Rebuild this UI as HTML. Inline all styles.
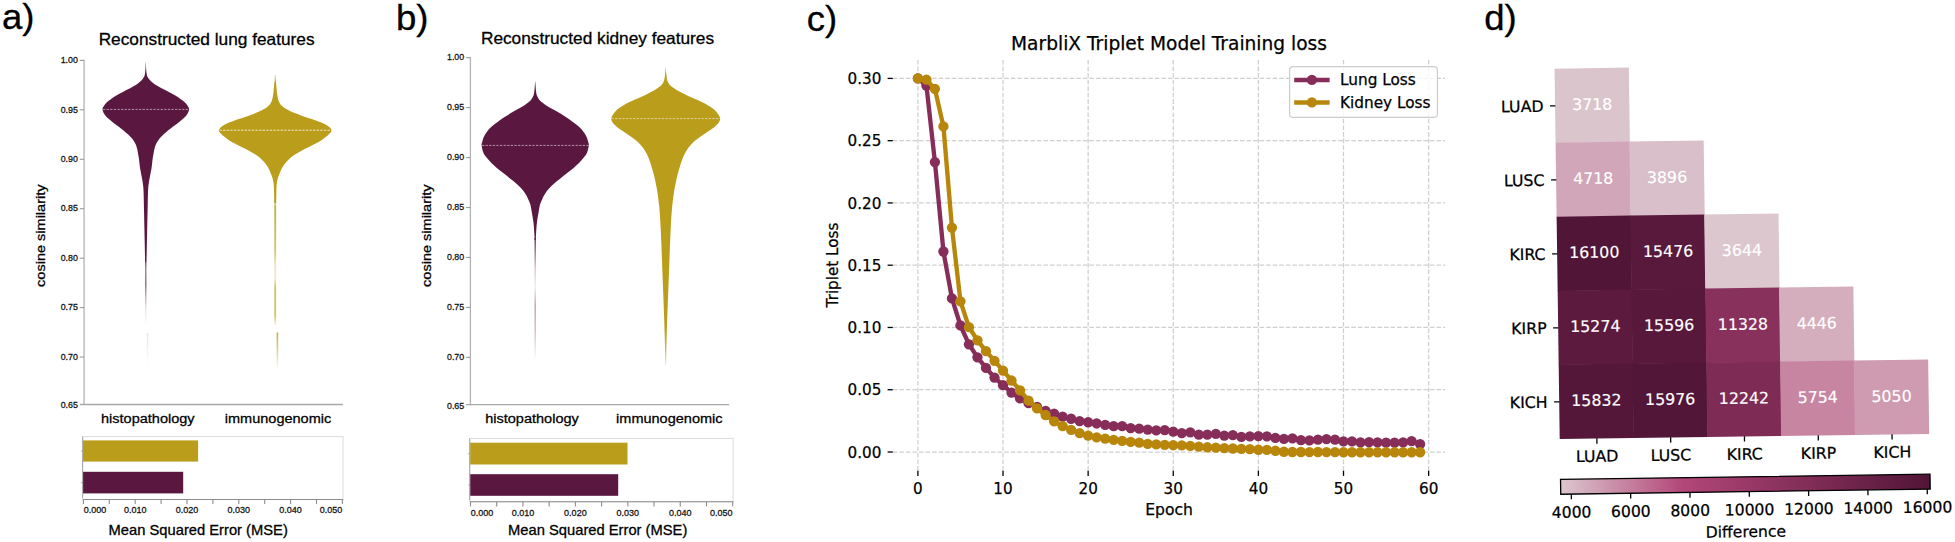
<!DOCTYPE html>
<html lang="en"><head><meta charset="utf-8"><title>MarbliX figure</title>
<style>
html,body{margin:0;padding:0;background:#fff;}
body{width:1955px;height:542px;overflow:hidden;}
svg{display:block;}
text{white-space:pre;}
</style></head><body>
<svg width="1955" height="542" viewBox="0 0 1955 542">
<rect width="1955" height="542" fill="#fff"/>
<defs>
<linearGradient id="t1" x1="0" y1="0" x2="0" y2="1"><stop offset="0" stop-color="#5a1740" stop-opacity="0.85"/><stop offset="0.12" stop-color="#5a1740" stop-opacity="0.6"/><stop offset="0.35" stop-color="#5a1740" stop-opacity="0.7"/><stop offset="0.7" stop-color="#5a1740" stop-opacity="0.15"/><stop offset="1" stop-color="#5a1740" stop-opacity="0"/></linearGradient>
<linearGradient id="t1b" x1="0" y1="0" x2="0" y2="1"><stop offset="0" stop-color="#5a1740" stop-opacity="0.12"/><stop offset="1" stop-color="#5a1740" stop-opacity="0"/></linearGradient>
<linearGradient id="t2" x1="0" y1="0" x2="0" y2="1"><stop offset="0" stop-color="#ba9e1b" stop-opacity="0.5"/><stop offset="0.04" stop-color="#ba9e1b" stop-opacity="0.8"/><stop offset="0.4" stop-color="#ba9e1b" stop-opacity="0.6"/><stop offset="0.5" stop-color="#ba9e1b" stop-opacity="0.28"/><stop offset="0.62" stop-color="#ba9e1b" stop-opacity="0.2"/><stop offset="0.7" stop-color="#ba9e1b" stop-opacity="0.65"/><stop offset="0.92" stop-color="#ba9e1b" stop-opacity="0.6"/><stop offset="1" stop-color="#ba9e1b" stop-opacity="0.15"/></linearGradient>
<linearGradient id="t2b" x1="0" y1="0" x2="0" y2="1"><stop offset="0" stop-color="#ba9e1b" stop-opacity="0.85"/><stop offset="0.5" stop-color="#ba9e1b" stop-opacity="0.45"/><stop offset="1" stop-color="#ba9e1b" stop-opacity="0"/></linearGradient>
<linearGradient id="t3" x1="0" y1="0" x2="0" y2="1"><stop offset="0" stop-color="#5a1740" stop-opacity="0.9"/><stop offset="0.25" stop-color="#5a1740" stop-opacity="0.25"/><stop offset="0.4" stop-color="#5a1740" stop-opacity="0.08"/><stop offset="0.55" stop-color="#5a1740" stop-opacity="0.4"/><stop offset="0.75" stop-color="#5a1740" stop-opacity="0.3"/><stop offset="1" stop-color="#5a1740" stop-opacity="0"/></linearGradient>
<linearGradient id="t4" x1="0" y1="0" x2="0" y2="1"><stop offset="0" stop-color="#ba9e1b" stop-opacity="1"/><stop offset="1" stop-color="#ba9e1b" stop-opacity="0"/></linearGradient>
<linearGradient id="cb" x1="0" y1="0" x2="1" y2="0"><stop offset="0" stop-color="#dcc7ce" stop-opacity="1"/><stop offset="0.333" stop-color="#b24678" stop-opacity="1"/><stop offset="1" stop-color="#511538" stop-opacity="1"/></linearGradient>
<linearGradient id="v4g" gradientUnits="userSpaceOnUse" x1="0" y1="60" x2="0" y2="372"><stop offset="0" stop-color="#ba9e1b"/><stop offset="0.86" stop-color="#ba9e1b"/><stop offset="0.93" stop-color="#ba9e1b" stop-opacity="0.75"/><stop offset="1" stop-color="#ba9e1b" stop-opacity="0"/></linearGradient>
</defs>
<g stroke="#b2b2b2" stroke-width="1.3" fill="none">
<line x1="84.05" y1="59.80" x2="84.05" y2="405.10"/>
<line x1="79.75" y1="404.50" x2="342.85" y2="404.50" stroke="#a8a8a8"/>
<line x1="79.75" y1="60.40" x2="84.05" y2="60.40" stroke-width="1.1" stroke="#999"/>
<line x1="79.75" y1="109.84" x2="84.05" y2="109.84" stroke-width="1.1" stroke="#999"/>
<line x1="79.75" y1="159.28" x2="84.05" y2="159.28" stroke-width="1.1" stroke="#999"/>
<line x1="79.75" y1="208.72" x2="84.05" y2="208.72" stroke-width="1.1" stroke="#999"/>
<line x1="79.75" y1="258.16" x2="84.05" y2="258.16" stroke-width="1.1" stroke="#999"/>
<line x1="79.75" y1="307.60" x2="84.05" y2="307.60" stroke-width="1.1" stroke="#999"/>
<line x1="79.75" y1="357.04" x2="84.05" y2="357.04" stroke-width="1.1" stroke="#999"/>
</g>
<text transform="translate(77.85 63.15) scale(1.0600 1)" font-size="8.35" text-anchor="end" font-family='"Liberation Sans", Arial, Helvetica, sans-serif' fill="#111" stroke="#111" stroke-width="0.25" >1.00</text>
<text transform="translate(77.85 112.59) scale(1.0600 1)" font-size="8.35" text-anchor="end" font-family='"Liberation Sans", Arial, Helvetica, sans-serif' fill="#111" stroke="#111" stroke-width="0.25" >0.95</text>
<text transform="translate(77.85 162.03) scale(1.0600 1)" font-size="8.35" text-anchor="end" font-family='"Liberation Sans", Arial, Helvetica, sans-serif' fill="#111" stroke="#111" stroke-width="0.25" >0.90</text>
<text transform="translate(77.85 211.47) scale(1.0600 1)" font-size="8.35" text-anchor="end" font-family='"Liberation Sans", Arial, Helvetica, sans-serif' fill="#111" stroke="#111" stroke-width="0.25" >0.85</text>
<text transform="translate(77.85 260.91) scale(1.0600 1)" font-size="8.35" text-anchor="end" font-family='"Liberation Sans", Arial, Helvetica, sans-serif' fill="#111" stroke="#111" stroke-width="0.25" >0.80</text>
<text transform="translate(77.85 310.35) scale(1.0600 1)" font-size="8.35" text-anchor="end" font-family='"Liberation Sans", Arial, Helvetica, sans-serif' fill="#111" stroke="#111" stroke-width="0.25" >0.75</text>
<text transform="translate(77.85 359.79) scale(1.0600 1)" font-size="8.35" text-anchor="end" font-family='"Liberation Sans", Arial, Helvetica, sans-serif' fill="#111" stroke="#111" stroke-width="0.25" >0.70</text>
<text transform="translate(77.85 408.45) scale(1.0600 1)" font-size="8.35" text-anchor="end" font-family='"Liberation Sans", Arial, Helvetica, sans-serif' fill="#111" stroke="#111" stroke-width="0.25" >0.65</text>
<text transform="translate(2.00 29.00) scale(1.0500 1)" font-size="34.80" text-anchor="start" font-family='"Liberation Sans", Arial, Helvetica, sans-serif' fill="#000" stroke="#000" stroke-width="0.30" >a)</text>
<text transform="translate(206.60 44.80) scale(1.0600 1)" font-size="16.30" text-anchor="middle" font-family='"Liberation Sans", Arial, Helvetica, sans-serif' fill="#000" stroke="#000" stroke-width="0.28" >Reconstructed lung features</text>
<text transform="translate(147.80 423.40) scale(1.0600 1)" font-size="13.70" text-anchor="middle" font-family='"Liberation Sans", Arial, Helvetica, sans-serif' fill="#000" stroke="#000" stroke-width="0.28" >histopathology</text>
<text transform="translate(278.00 423.40) scale(1.0600 1)" font-size="13.70" text-anchor="middle" font-family='"Liberation Sans", Arial, Helvetica, sans-serif' fill="#000" stroke="#000" stroke-width="0.28" >immunogenomic</text>
<text transform="translate(45.00 235.70) rotate(-90) scale(1.0600 1)" font-size="13.70" text-anchor="middle" font-family='"Liberation Sans", Arial, Helvetica, sans-serif' fill="#000" stroke="#000" stroke-width="0.28" >cosine similarity</text>
<path d="M145.90 62.50 C145.93 63.42 145.98 66.17 146.10 68.00 C146.22 69.83 146.35 71.98 146.60 73.50 C146.85 75.02 146.97 75.88 147.60 77.10 C148.23 78.32 149.17 79.57 150.40 80.80 C151.63 82.03 153.15 83.27 155.00 84.50 C156.85 85.73 159.20 86.97 161.50 88.20 C163.80 89.43 166.50 90.67 168.80 91.90 C171.10 93.13 173.30 94.37 175.30 95.60 C177.30 96.83 179.10 98.07 180.80 99.30 C182.50 100.53 184.27 101.77 185.50 103.00 C186.73 104.23 187.60 105.63 188.20 106.70 C188.80 107.77 189.25 108.18 189.10 109.40 C188.95 110.62 188.12 112.62 187.30 114.00 C186.48 115.38 185.45 116.47 184.20 117.70 C182.95 118.93 181.28 120.17 179.80 121.40 C178.32 122.63 176.88 123.87 175.30 125.10 C173.72 126.33 171.88 127.57 170.30 128.80 C168.72 130.03 167.23 131.27 165.80 132.50 C164.37 133.73 162.92 134.97 161.70 136.20 C160.48 137.43 159.40 138.67 158.50 139.90 C157.60 141.13 156.90 142.37 156.30 143.60 C155.70 144.83 155.28 146.07 154.90 147.30 C154.52 148.53 154.25 149.78 154.00 151.00 C153.75 152.22 153.63 153.23 153.40 154.60 C153.17 155.97 152.92 156.88 152.60 159.20 C152.28 161.52 151.98 165.42 151.50 168.50 C151.02 171.58 150.23 174.63 149.70 177.70 C149.17 180.77 148.60 183.83 148.30 186.90 C148.00 189.97 148.00 193.02 147.90 196.10 C147.80 199.18 147.77 202.32 147.70 205.40 C147.63 208.48 147.57 211.53 147.50 214.60 C147.43 217.67 147.37 220.73 147.30 223.80 C147.23 226.87 147.17 229.92 147.10 233.00 C147.03 236.08 146.97 239.13 146.90 242.30 C146.83 245.47 146.77 248.72 146.70 252.00 C146.63 255.28 146.53 260.33 146.50 262.00 L145.10 262.00 C145.07 260.33 144.97 255.28 144.90 252.00 C144.83 248.72 144.77 245.47 144.70 242.30 C144.63 239.13 144.57 236.08 144.50 233.00 C144.43 229.92 144.37 226.87 144.30 223.80 C144.23 220.73 144.17 217.67 144.10 214.60 C144.03 211.53 143.97 208.48 143.90 205.40 C143.83 202.32 143.80 199.18 143.70 196.10 C143.60 193.02 143.60 189.97 143.30 186.90 C143.00 183.83 142.43 180.77 141.90 177.70 C141.37 174.63 140.58 171.58 140.10 168.50 C139.62 165.42 139.32 161.52 139.00 159.20 C138.68 156.88 138.43 155.97 138.20 154.60 C137.97 153.23 137.85 152.22 137.60 151.00 C137.35 149.78 137.08 148.53 136.70 147.30 C136.32 146.07 135.90 144.83 135.30 143.60 C134.70 142.37 134.00 141.13 133.10 139.90 C132.20 138.67 131.12 137.43 129.90 136.20 C128.68 134.97 127.23 133.73 125.80 132.50 C124.37 131.27 122.88 130.03 121.30 128.80 C119.72 127.57 117.88 126.33 116.30 125.10 C114.72 123.87 113.28 122.63 111.80 121.40 C110.32 120.17 108.65 118.93 107.40 117.70 C106.15 116.47 105.12 115.38 104.30 114.00 C103.48 112.62 102.65 110.62 102.50 109.40 C102.35 108.18 102.80 107.77 103.40 106.70 C104.00 105.63 104.87 104.23 106.10 103.00 C107.33 101.77 109.10 100.53 110.80 99.30 C112.50 98.07 114.30 96.83 116.30 95.60 C118.30 94.37 120.50 93.13 122.80 91.90 C125.10 90.67 127.80 89.43 130.10 88.20 C132.40 86.97 134.75 85.73 136.60 84.50 C138.45 83.27 139.97 82.03 141.20 80.80 C142.43 79.57 143.37 78.32 144.00 77.10 C144.63 75.88 144.75 75.02 145.00 73.50 C145.25 71.98 145.38 69.83 145.50 68.00 C145.62 66.17 145.67 63.42 145.70 62.50 Z" fill="#5a1740"/>
<rect x="145.15" y="261.8" width="1.3" height="64" fill="url(#t1)"/>
<rect x="146.9" y="333" width="1.4" height="32" fill="url(#t1b)"/>
<line x1="103" y1="109.4" x2="189" y2="109.4" stroke="#fff" stroke-opacity="0.6" stroke-width="0.9" stroke-dasharray="2.3 1.3"/>
<path d="M275.35 75.00 C275.41 75.83 275.56 78.47 275.70 80.00 C275.84 81.53 275.97 81.90 276.20 84.20 C276.43 86.50 276.68 91.00 277.10 93.80 C277.52 96.60 277.92 99.00 278.70 101.00 C279.48 103.00 280.08 104.20 281.80 105.80 C283.52 107.40 285.80 109.00 289.00 110.60 C292.20 112.20 296.63 113.80 301.00 115.40 C305.37 117.00 310.97 118.60 315.20 120.20 C319.43 121.80 323.67 123.33 326.40 125.00 C329.13 126.67 331.23 128.60 331.60 130.20 C331.97 131.80 330.10 133.07 328.60 134.60 C327.10 136.13 325.00 137.80 322.60 139.40 C320.20 141.00 317.20 142.60 314.20 144.20 C311.20 145.80 307.60 147.40 304.60 149.00 C301.60 150.60 298.68 152.22 296.20 153.80 C293.72 155.38 291.53 156.92 289.70 158.50 C287.87 160.08 286.48 161.70 285.20 163.30 C283.92 164.90 282.90 166.50 282.00 168.10 C281.10 169.70 280.47 171.30 279.80 172.90 C279.13 174.50 278.48 176.10 278.00 177.70 C277.52 179.30 277.15 180.90 276.90 182.50 C276.65 184.10 276.60 185.22 276.50 187.30 C276.40 189.38 276.35 192.38 276.30 195.00 C276.25 197.62 276.22 201.67 276.20 203.00 L274.20 203.00 C274.18 201.67 274.15 197.62 274.10 195.00 C274.05 192.38 274.00 189.38 273.90 187.30 C273.80 185.22 273.75 184.10 273.50 182.50 C273.25 180.90 272.88 179.30 272.40 177.70 C271.92 176.10 271.27 174.50 270.60 172.90 C269.93 171.30 269.30 169.70 268.40 168.10 C267.50 166.50 266.48 164.90 265.20 163.30 C263.92 161.70 262.53 160.08 260.70 158.50 C258.87 156.92 256.68 155.38 254.20 153.80 C251.72 152.22 248.80 150.60 245.80 149.00 C242.80 147.40 239.20 145.80 236.20 144.20 C233.20 142.60 230.20 141.00 227.80 139.40 C225.40 137.80 223.30 136.13 221.80 134.60 C220.30 133.07 218.43 131.80 218.80 130.20 C219.17 128.60 221.27 126.67 224.00 125.00 C226.73 123.33 230.97 121.80 235.20 120.20 C239.43 118.60 245.03 117.00 249.40 115.40 C253.77 113.80 258.20 112.20 261.40 110.60 C264.60 109.00 266.88 107.40 268.60 105.80 C270.32 104.20 270.92 103.00 271.70 101.00 C272.48 99.00 272.88 96.60 273.30 93.80 C273.72 91.00 273.97 86.50 274.20 84.20 C274.43 81.90 274.56 81.53 274.70 80.00 C274.84 78.47 274.99 75.83 275.05 75.00 Z" fill="#ba9e1b"/>
<rect x="274.25" y="202.5" width="1.9" height="122.5" fill="url(#t2)"/>
<rect x="276.6" y="332.5" width="1.6" height="38" fill="url(#t2b)"/>
<line x1="219.5" y1="130.2" x2="331.5" y2="130.2" stroke="#fff" stroke-opacity="0.75" stroke-width="1.1" stroke-dasharray="2.3 1.3"/>
<rect x="82.60" y="436.60" width="260.40" height="62.90" fill="#fff" stroke="#dcdcdc" stroke-width="1"/>
<rect x="83.00" y="440.40" width="115.10" height="21.20" fill="#ba9e1b"/>
<rect x="83.00" y="471.80" width="100.20" height="21.60" fill="#5a1740"/>
<g stroke="#8c8c8c" stroke-width="1.1" fill="none">
<line x1="82.60" y1="436.60" x2="82.60" y2="498.00" stroke="#aaa"/>
<line x1="82.90" y1="499.50" x2="343.30" y2="499.50"/>
<line x1="83.40" y1="499.50" x2="83.40" y2="504.10"/>
<line x1="109.30" y1="499.50" x2="109.30" y2="504.10"/>
<line x1="135.20" y1="499.50" x2="135.20" y2="504.10"/>
<line x1="161.10" y1="499.50" x2="161.10" y2="504.10"/>
<line x1="187.00" y1="499.50" x2="187.00" y2="504.10"/>
<line x1="212.90" y1="499.50" x2="212.90" y2="504.10"/>
<line x1="238.80" y1="499.50" x2="238.80" y2="504.10"/>
<line x1="264.70" y1="499.50" x2="264.70" y2="504.10"/>
<line x1="290.60" y1="499.50" x2="290.60" y2="504.10"/>
<line x1="316.50" y1="499.50" x2="316.50" y2="504.10"/>
<line x1="342.40" y1="499.50" x2="342.40" y2="504.10"/>
<line x1="81.00" y1="451.00" x2="82.60" y2="451.00" stroke-opacity="0.6"/>
<line x1="81.00" y1="482.60" x2="82.60" y2="482.60" stroke-opacity="0.6"/>
</g>
<text transform="translate(83.70 513.30) scale(1.0600 1)" font-size="8.50" text-anchor="start" font-family='"Liberation Sans", Arial, Helvetica, sans-serif' fill="#111" stroke="#111" stroke-width="0.25" >0.000</text>
<text transform="translate(135.20 513.30) scale(1.0600 1)" font-size="8.50" text-anchor="middle" font-family='"Liberation Sans", Arial, Helvetica, sans-serif' fill="#111" stroke="#111" stroke-width="0.25" >0.010</text>
<text transform="translate(187.00 513.30) scale(1.0600 1)" font-size="8.50" text-anchor="middle" font-family='"Liberation Sans", Arial, Helvetica, sans-serif' fill="#111" stroke="#111" stroke-width="0.25" >0.020</text>
<text transform="translate(238.80 513.30) scale(1.0600 1)" font-size="8.50" text-anchor="middle" font-family='"Liberation Sans", Arial, Helvetica, sans-serif' fill="#111" stroke="#111" stroke-width="0.25" >0.030</text>
<text transform="translate(290.60 513.30) scale(1.0600 1)" font-size="8.50" text-anchor="middle" font-family='"Liberation Sans", Arial, Helvetica, sans-serif' fill="#111" stroke="#111" stroke-width="0.25" >0.040</text>
<text transform="translate(342.20 513.30) scale(1.0600 1)" font-size="8.50" text-anchor="end" font-family='"Liberation Sans", Arial, Helvetica, sans-serif' fill="#111" stroke="#111" stroke-width="0.25" >0.050</text>
<text transform="translate(198.20 535.30) scale(1.0600 1)" font-size="13.90" text-anchor="middle" font-family='"Liberation Sans", Arial, Helvetica, sans-serif' fill="#000" stroke="#000" stroke-width="0.28" >Mean Squared Error (MSE)</text>
<g stroke="#b2b2b2" stroke-width="1.3" fill="none">
<line x1="470.40" y1="57.10" x2="470.40" y2="405.30"/>
<line x1="466.10" y1="404.70" x2="729.20" y2="404.70" stroke="#a8a8a8"/>
<line x1="466.10" y1="57.70" x2="470.40" y2="57.70" stroke-width="1.1" stroke="#999"/>
<line x1="466.10" y1="107.64" x2="470.40" y2="107.64" stroke-width="1.1" stroke="#999"/>
<line x1="466.10" y1="157.58" x2="470.40" y2="157.58" stroke-width="1.1" stroke="#999"/>
<line x1="466.10" y1="207.52" x2="470.40" y2="207.52" stroke-width="1.1" stroke="#999"/>
<line x1="466.10" y1="257.46" x2="470.40" y2="257.46" stroke-width="1.1" stroke="#999"/>
<line x1="466.10" y1="307.40" x2="470.40" y2="307.40" stroke-width="1.1" stroke="#999"/>
<line x1="466.10" y1="357.34" x2="470.40" y2="357.34" stroke-width="1.1" stroke="#999"/>
</g>
<text transform="translate(464.20 60.45) scale(1.0600 1)" font-size="8.35" text-anchor="end" font-family='"Liberation Sans", Arial, Helvetica, sans-serif' fill="#111" stroke="#111" stroke-width="0.25" >1.00</text>
<text transform="translate(464.20 110.39) scale(1.0600 1)" font-size="8.35" text-anchor="end" font-family='"Liberation Sans", Arial, Helvetica, sans-serif' fill="#111" stroke="#111" stroke-width="0.25" >0.95</text>
<text transform="translate(464.20 160.33) scale(1.0600 1)" font-size="8.35" text-anchor="end" font-family='"Liberation Sans", Arial, Helvetica, sans-serif' fill="#111" stroke="#111" stroke-width="0.25" >0.90</text>
<text transform="translate(464.20 210.27) scale(1.0600 1)" font-size="8.35" text-anchor="end" font-family='"Liberation Sans", Arial, Helvetica, sans-serif' fill="#111" stroke="#111" stroke-width="0.25" >0.85</text>
<text transform="translate(464.20 260.21) scale(1.0600 1)" font-size="8.35" text-anchor="end" font-family='"Liberation Sans", Arial, Helvetica, sans-serif' fill="#111" stroke="#111" stroke-width="0.25" >0.80</text>
<text transform="translate(464.20 310.15) scale(1.0600 1)" font-size="8.35" text-anchor="end" font-family='"Liberation Sans", Arial, Helvetica, sans-serif' fill="#111" stroke="#111" stroke-width="0.25" >0.75</text>
<text transform="translate(464.20 360.09) scale(1.0600 1)" font-size="8.35" text-anchor="end" font-family='"Liberation Sans", Arial, Helvetica, sans-serif' fill="#111" stroke="#111" stroke-width="0.25" >0.70</text>
<text transform="translate(464.20 409.20) scale(1.0600 1)" font-size="8.35" text-anchor="end" font-family='"Liberation Sans", Arial, Helvetica, sans-serif' fill="#111" stroke="#111" stroke-width="0.25" >0.65</text>
<text transform="translate(396.00 29.50) scale(1.0500 1)" font-size="34.80" text-anchor="start" font-family='"Liberation Sans", Arial, Helvetica, sans-serif' fill="#000" stroke="#000" stroke-width="0.30" >b)</text>
<text transform="translate(597.50 44.30) scale(1.0600 1)" font-size="16.30" text-anchor="middle" font-family='"Liberation Sans", Arial, Helvetica, sans-serif' fill="#000" stroke="#000" stroke-width="0.28" >Reconstructed kidney features</text>
<text transform="translate(532.00 423.40) scale(1.0600 1)" font-size="13.70" text-anchor="middle" font-family='"Liberation Sans", Arial, Helvetica, sans-serif' fill="#000" stroke="#000" stroke-width="0.28" >histopathology</text>
<text transform="translate(669.30 423.40) scale(1.0600 1)" font-size="13.70" text-anchor="middle" font-family='"Liberation Sans", Arial, Helvetica, sans-serif' fill="#000" stroke="#000" stroke-width="0.28" >immunogenomic</text>
<text transform="translate(431.20 235.70) rotate(-90) scale(1.0600 1)" font-size="13.70" text-anchor="middle" font-family='"Liberation Sans", Arial, Helvetica, sans-serif' fill="#000" stroke="#000" stroke-width="0.28" >cosine similarity</text>
<path d="M535.35 82.00 C535.39 82.67 535.49 84.55 535.60 86.00 C535.71 87.45 535.77 89.07 536.00 90.70 C536.23 92.33 536.27 94.08 537.00 95.80 C537.73 97.52 538.65 99.27 540.40 101.00 C542.15 102.73 544.82 104.48 547.50 106.20 C550.18 107.92 553.58 109.58 556.50 111.30 C559.42 113.02 562.33 114.77 565.00 116.50 C567.67 118.23 570.17 119.98 572.50 121.70 C574.83 123.42 577.15 125.08 579.00 126.80 C580.85 128.52 582.32 130.27 583.60 132.00 C584.88 133.73 585.92 135.48 586.70 137.20 C587.48 138.92 587.95 140.93 588.30 142.30 C588.65 143.67 589.02 143.67 588.80 145.40 C588.58 147.13 587.87 150.63 587.00 152.70 C586.13 154.77 584.93 156.08 583.60 157.80 C582.27 159.52 580.72 161.27 579.00 163.00 C577.28 164.73 575.33 166.48 573.30 168.20 C571.27 169.92 568.95 171.58 566.80 173.30 C564.65 175.02 562.55 176.77 560.40 178.50 C558.25 180.23 555.83 181.98 553.90 183.70 C551.97 185.42 550.30 187.08 548.80 188.80 C547.30 190.52 546.00 192.27 544.90 194.00 C543.80 195.73 543.00 197.48 542.20 199.20 C541.40 200.92 540.67 202.33 540.10 204.30 C539.53 206.27 539.32 208.05 538.80 211.00 C538.28 213.95 537.45 218.33 537.00 222.00 C536.55 225.67 536.30 230.00 536.10 233.00 C535.90 236.00 535.85 238.83 535.80 240.00 L534.60 240.00 C534.55 238.83 534.50 236.00 534.30 233.00 C534.10 230.00 533.85 225.67 533.40 222.00 C532.95 218.33 532.12 213.95 531.60 211.00 C531.08 208.05 530.87 206.27 530.30 204.30 C529.73 202.33 529.00 200.92 528.20 199.20 C527.40 197.48 526.60 195.73 525.50 194.00 C524.40 192.27 523.10 190.52 521.60 188.80 C520.10 187.08 518.43 185.42 516.50 183.70 C514.57 181.98 512.15 180.23 510.00 178.50 C507.85 176.77 505.75 175.02 503.60 173.30 C501.45 171.58 499.13 169.92 497.10 168.20 C495.07 166.48 493.12 164.73 491.40 163.00 C489.68 161.27 488.13 159.52 486.80 157.80 C485.47 156.08 484.27 154.77 483.40 152.70 C482.53 150.63 481.82 147.13 481.60 145.40 C481.38 143.67 481.75 143.67 482.10 142.30 C482.45 140.93 482.92 138.92 483.70 137.20 C484.48 135.48 485.52 133.73 486.80 132.00 C488.08 130.27 489.55 128.52 491.40 126.80 C493.25 125.08 495.57 123.42 497.90 121.70 C500.23 119.98 502.73 118.23 505.40 116.50 C508.07 114.77 510.98 113.02 513.90 111.30 C516.82 109.58 520.22 107.92 522.90 106.20 C525.58 104.48 528.25 102.73 530.00 101.00 C531.75 99.27 532.67 97.52 533.40 95.80 C534.13 94.08 534.17 92.33 534.40 90.70 C534.63 89.07 534.69 87.45 534.80 86.00 C534.91 84.55 535.01 82.67 535.05 82.00 Z" fill="#5a1740"/>
<rect x="534.5" y="238" width="1.4" height="122" fill="url(#t3)"/>
<line x1="482" y1="145.4" x2="588.5" y2="145.4" stroke="#fff" stroke-opacity="0.6" stroke-width="0.9" stroke-dasharray="2.3 1.3"/>
<path d="M665.85 68.00 C665.89 68.67 665.99 70.75 666.10 72.00 C666.21 73.25 666.28 74.05 666.50 75.50 C666.72 76.95 666.72 78.98 667.40 80.70 C668.08 82.42 668.77 84.08 670.60 85.80 C672.43 87.52 675.38 89.27 678.40 91.00 C681.42 92.73 685.05 94.48 688.70 96.20 C692.35 97.92 696.77 99.58 700.30 101.30 C703.83 103.02 707.23 104.77 709.90 106.50 C712.57 108.23 714.58 109.68 716.30 111.70 C718.02 113.72 720.07 116.45 720.20 118.60 C720.33 120.75 718.68 122.73 717.10 124.60 C715.52 126.47 713.07 128.08 710.70 129.80 C708.33 131.52 705.37 133.18 702.90 134.90 C700.43 136.62 697.97 138.37 695.90 140.10 C693.83 141.83 692.05 143.58 690.50 145.30 C688.95 147.02 687.72 148.68 686.60 150.40 C685.48 152.12 684.75 153.45 683.80 155.60 C682.85 157.75 681.77 160.72 680.90 163.30 C680.03 165.88 679.32 168.52 678.60 171.10 C677.88 173.68 677.20 176.22 676.60 178.80 C676.00 181.38 675.48 184.02 675.00 186.60 C674.52 189.18 674.20 190.65 673.70 194.30 C673.20 197.95 672.48 203.05 672.00 208.50 C671.52 213.95 671.13 220.92 670.80 227.00 C670.47 233.08 670.25 238.83 670.00 245.00 C669.75 251.17 669.53 257.83 669.30 264.00 C669.07 270.17 668.83 275.83 668.60 282.00 C668.37 288.17 668.13 294.83 667.90 301.00 C667.67 307.17 667.41 312.90 667.20 319.00 C666.99 325.10 666.80 332.10 666.65 337.60 C666.50 343.10 666.38 347.27 666.30 352.00 C666.22 356.73 666.18 363.67 666.15 366.00 L665.25 366.00 C665.23 363.67 665.18 356.73 665.10 352.00 C665.02 347.27 664.90 343.10 664.75 337.60 C664.60 332.10 664.41 325.10 664.20 319.00 C663.99 312.90 663.73 307.17 663.50 301.00 C663.27 294.83 663.03 288.17 662.80 282.00 C662.57 275.83 662.33 270.17 662.10 264.00 C661.87 257.83 661.65 251.17 661.40 245.00 C661.15 238.83 660.93 233.08 660.60 227.00 C660.27 220.92 659.88 213.95 659.40 208.50 C658.92 203.05 658.20 197.95 657.70 194.30 C657.20 190.65 656.88 189.18 656.40 186.60 C655.92 184.02 655.40 181.38 654.80 178.80 C654.20 176.22 653.52 173.68 652.80 171.10 C652.08 168.52 651.37 165.88 650.50 163.30 C649.63 160.72 648.55 157.75 647.60 155.60 C646.65 153.45 645.92 152.12 644.80 150.40 C643.68 148.68 642.45 147.02 640.90 145.30 C639.35 143.58 637.57 141.83 635.50 140.10 C633.43 138.37 630.97 136.62 628.50 134.90 C626.03 133.18 623.07 131.52 620.70 129.80 C618.33 128.08 615.88 126.47 614.30 124.60 C612.72 122.73 611.07 120.75 611.20 118.60 C611.33 116.45 613.38 113.72 615.10 111.70 C616.82 109.68 618.83 108.23 621.50 106.50 C624.17 104.77 627.57 103.02 631.10 101.30 C634.63 99.58 639.05 97.92 642.70 96.20 C646.35 94.48 649.98 92.73 653.00 91.00 C656.02 89.27 658.97 87.52 660.80 85.80 C662.63 84.08 663.32 82.42 664.00 80.70 C664.68 78.98 664.68 76.95 664.90 75.50 C665.12 74.05 665.19 73.25 665.30 72.00 C665.41 70.75 665.51 68.67 665.55 68.00 Z" fill="url(#v4g)"/>
<line x1="611.5" y1="118.6" x2="720" y2="118.6" stroke="#fff" stroke-opacity="0.6" stroke-width="0.9" stroke-dasharray="2.3 1.3"/>
<rect x="469.70" y="438.40" width="263.40" height="63.30" fill="#fff" stroke="#dcdcdc" stroke-width="1"/>
<rect x="470.10" y="442.70" width="157.40" height="21.80" fill="#ba9e1b"/>
<rect x="470.10" y="474.20" width="148.10" height="21.60" fill="#5a1740"/>
<g stroke="#8c8c8c" stroke-width="1.1" fill="none">
<line x1="469.70" y1="438.40" x2="469.70" y2="500.20" stroke="#aaa"/>
<line x1="470.00" y1="501.70" x2="733.40" y2="501.70"/>
<line x1="470.50" y1="501.70" x2="470.50" y2="506.40"/>
<line x1="496.72" y1="501.70" x2="496.72" y2="506.40"/>
<line x1="522.94" y1="501.70" x2="522.94" y2="506.40"/>
<line x1="549.16" y1="501.70" x2="549.16" y2="506.40"/>
<line x1="575.38" y1="501.70" x2="575.38" y2="506.40"/>
<line x1="601.60" y1="501.70" x2="601.60" y2="506.40"/>
<line x1="627.82" y1="501.70" x2="627.82" y2="506.40"/>
<line x1="654.04" y1="501.70" x2="654.04" y2="506.40"/>
<line x1="680.26" y1="501.70" x2="680.26" y2="506.40"/>
<line x1="706.48" y1="501.70" x2="706.48" y2="506.40"/>
<line x1="732.70" y1="501.70" x2="732.70" y2="506.40"/>
<line x1="468.10" y1="453.60" x2="469.70" y2="453.60" stroke-opacity="0.6"/>
<line x1="468.10" y1="485.00" x2="469.70" y2="485.00" stroke-opacity="0.6"/>
</g>
<text transform="translate(470.80 516.20) scale(1.0600 1)" font-size="8.50" text-anchor="start" font-family='"Liberation Sans", Arial, Helvetica, sans-serif' fill="#111" stroke="#111" stroke-width="0.25" >0.000</text>
<text transform="translate(522.94 516.20) scale(1.0600 1)" font-size="8.50" text-anchor="middle" font-family='"Liberation Sans", Arial, Helvetica, sans-serif' fill="#111" stroke="#111" stroke-width="0.25" >0.010</text>
<text transform="translate(575.38 516.20) scale(1.0600 1)" font-size="8.50" text-anchor="middle" font-family='"Liberation Sans", Arial, Helvetica, sans-serif' fill="#111" stroke="#111" stroke-width="0.25" >0.020</text>
<text transform="translate(627.82 516.20) scale(1.0600 1)" font-size="8.50" text-anchor="middle" font-family='"Liberation Sans", Arial, Helvetica, sans-serif' fill="#111" stroke="#111" stroke-width="0.25" >0.030</text>
<text transform="translate(680.26 516.20) scale(1.0600 1)" font-size="8.50" text-anchor="middle" font-family='"Liberation Sans", Arial, Helvetica, sans-serif' fill="#111" stroke="#111" stroke-width="0.25" >0.040</text>
<text transform="translate(732.50 516.20) scale(1.0600 1)" font-size="8.50" text-anchor="end" font-family='"Liberation Sans", Arial, Helvetica, sans-serif' fill="#111" stroke="#111" stroke-width="0.25" >0.050</text>
<text transform="translate(597.70 535.10) scale(1.0600 1)" font-size="13.90" text-anchor="middle" font-family='"Liberation Sans", Arial, Helvetica, sans-serif' fill="#000" stroke="#000" stroke-width="0.28" >Mean Squared Error (MSE)</text>
<text transform="translate(806.80 31.30) scale(1.0500 1)" font-size="34.80" text-anchor="start" font-family='"Liberation Sans", Arial, Helvetica, sans-serif' fill="#000" stroke="#000" stroke-width="0.30" >c)</text>
<g stroke="#cfcfcf" stroke-width="1.25" stroke-dasharray="4.6 1.95" fill="none">
<line x1="917.90" y1="470.70" x2="917.90" y2="59.60"/>
<line x1="1003.02" y1="470.70" x2="1003.02" y2="59.60"/>
<line x1="1088.14" y1="470.70" x2="1088.14" y2="59.60"/>
<line x1="1173.26" y1="470.70" x2="1173.26" y2="59.60"/>
<line x1="1258.38" y1="470.70" x2="1258.38" y2="59.60"/>
<line x1="1343.50" y1="470.70" x2="1343.50" y2="59.60"/>
<line x1="1428.62" y1="470.70" x2="1428.62" y2="59.60"/>
<line x1="892.80" y1="452.00" x2="1445.10" y2="452.00"/>
<line x1="892.80" y1="389.74" x2="1445.10" y2="389.74"/>
<line x1="892.80" y1="327.47" x2="1445.10" y2="327.47"/>
<line x1="892.80" y1="265.20" x2="1445.10" y2="265.20"/>
<line x1="892.80" y1="202.94" x2="1445.10" y2="202.94"/>
<line x1="892.80" y1="140.68" x2="1445.10" y2="140.68"/>
<line x1="892.80" y1="78.41" x2="1445.10" y2="78.41"/>
</g>
<g stroke="#000" stroke-width="1.3" fill="none">
<line x1="917.90" y1="470.70" x2="917.90" y2="475.90"/>
<line x1="1003.02" y1="470.70" x2="1003.02" y2="475.90"/>
<line x1="1088.14" y1="470.70" x2="1088.14" y2="475.90"/>
<line x1="1173.26" y1="470.70" x2="1173.26" y2="475.90"/>
<line x1="1258.38" y1="470.70" x2="1258.38" y2="475.90"/>
<line x1="1343.50" y1="470.70" x2="1343.50" y2="475.90"/>
<line x1="1428.62" y1="470.70" x2="1428.62" y2="475.90"/>
<line x1="887.60" y1="452.00" x2="892.80" y2="452.00"/>
<line x1="887.60" y1="389.74" x2="892.80" y2="389.74"/>
<line x1="887.60" y1="327.47" x2="892.80" y2="327.47"/>
<line x1="887.60" y1="265.20" x2="892.80" y2="265.20"/>
<line x1="887.60" y1="202.94" x2="892.80" y2="202.94"/>
<line x1="887.60" y1="140.68" x2="892.80" y2="140.68"/>
<line x1="887.60" y1="78.41" x2="892.80" y2="78.41"/>
</g>
<text transform="translate(917.90 494.10)" font-size="15.20" text-anchor="middle" font-family='"DejaVu Sans", "Liberation Sans", sans-serif' fill="#000" stroke="#000" stroke-width="0.25" >0</text>
<text transform="translate(1003.02 494.10)" font-size="15.20" text-anchor="middle" font-family='"DejaVu Sans", "Liberation Sans", sans-serif' fill="#000" stroke="#000" stroke-width="0.25" >10</text>
<text transform="translate(1088.14 494.10)" font-size="15.20" text-anchor="middle" font-family='"DejaVu Sans", "Liberation Sans", sans-serif' fill="#000" stroke="#000" stroke-width="0.25" >20</text>
<text transform="translate(1173.26 494.10)" font-size="15.20" text-anchor="middle" font-family='"DejaVu Sans", "Liberation Sans", sans-serif' fill="#000" stroke="#000" stroke-width="0.25" >30</text>
<text transform="translate(1258.38 494.10)" font-size="15.20" text-anchor="middle" font-family='"DejaVu Sans", "Liberation Sans", sans-serif' fill="#000" stroke="#000" stroke-width="0.25" >40</text>
<text transform="translate(1343.50 494.10)" font-size="15.20" text-anchor="middle" font-family='"DejaVu Sans", "Liberation Sans", sans-serif' fill="#000" stroke="#000" stroke-width="0.25" >50</text>
<text transform="translate(1428.62 494.10)" font-size="15.20" text-anchor="middle" font-family='"DejaVu Sans", "Liberation Sans", sans-serif' fill="#000" stroke="#000" stroke-width="0.25" >60</text>
<text transform="translate(881.40 457.70)" font-size="15.20" text-anchor="end" font-family='"DejaVu Sans", "Liberation Sans", sans-serif' fill="#000" stroke="#000" stroke-width="0.25" >0.00</text>
<text transform="translate(881.40 395.44)" font-size="15.20" text-anchor="end" font-family='"DejaVu Sans", "Liberation Sans", sans-serif' fill="#000" stroke="#000" stroke-width="0.25" >0.05</text>
<text transform="translate(881.40 333.17)" font-size="15.20" text-anchor="end" font-family='"DejaVu Sans", "Liberation Sans", sans-serif' fill="#000" stroke="#000" stroke-width="0.25" >0.10</text>
<text transform="translate(881.40 270.90)" font-size="15.20" text-anchor="end" font-family='"DejaVu Sans", "Liberation Sans", sans-serif' fill="#000" stroke="#000" stroke-width="0.25" >0.15</text>
<text transform="translate(881.40 208.64)" font-size="15.20" text-anchor="end" font-family='"DejaVu Sans", "Liberation Sans", sans-serif' fill="#000" stroke="#000" stroke-width="0.25" >0.20</text>
<text transform="translate(881.40 146.38)" font-size="15.20" text-anchor="end" font-family='"DejaVu Sans", "Liberation Sans", sans-serif' fill="#000" stroke="#000" stroke-width="0.25" >0.25</text>
<text transform="translate(881.40 84.11)" font-size="15.20" text-anchor="end" font-family='"DejaVu Sans", "Liberation Sans", sans-serif' fill="#000" stroke="#000" stroke-width="0.25" >0.30</text>
<text transform="translate(1169.00 49.90)" font-size="18.60" text-anchor="middle" font-family='"DejaVu Sans", "Liberation Sans", sans-serif' fill="#000" stroke="#000" stroke-width="0.25" >MarbliX Triplet Model Training loss</text>
<text transform="translate(1169.00 515.20)" font-size="15.60" text-anchor="middle" font-family='"DejaVu Sans", "Liberation Sans", sans-serif' fill="#000" stroke="#000" stroke-width="0.25" >Epoch</text>
<text transform="translate(837.60 265.00) rotate(-90)" font-size="15.20" text-anchor="middle" font-family='"DejaVu Sans", "Liberation Sans", sans-serif' fill="#000" stroke="#000" stroke-width="0.25" >Triplet Loss</text>
<polyline fill="none" stroke="#872d59" stroke-width="4.35" stroke-linejoin="round" stroke-linecap="round" points="917.90,78.41 926.41,85.51 934.92,162.09 943.44,251.51 951.95,298.45 960.46,325.48 968.97,344.28 977.48,357.36 986.00,367.94 994.51,377.53 1003.02,385.13 1011.53,392.72 1020.04,398.45 1028.56,403.18 1037.07,406.92 1045.58,410.78 1054.09,413.64 1062.60,416.63 1071.12,418.75 1079.63,421.12 1088.14,422.24 1096.65,423.48 1105.16,424.85 1113.68,426.22 1122.19,426.10 1130.70,428.09 1139.21,428.71 1147.72,429.58 1156.24,430.46 1164.75,430.08 1173.26,431.70 1181.77,433.07 1190.28,432.45 1198.80,434.69 1207.31,434.69 1215.82,433.94 1224.33,435.56 1232.84,435.19 1241.36,436.93 1249.87,436.31 1258.38,436.06 1266.89,436.31 1275.40,437.93 1283.92,438.80 1292.43,438.43 1300.94,440.17 1309.45,440.42 1317.96,439.55 1326.48,439.05 1334.99,439.55 1343.50,441.41 1352.01,441.41 1360.52,442.41 1369.04,442.04 1377.55,442.41 1386.06,442.66 1394.57,442.66 1403.08,442.41 1411.60,441.17 1420.11,444.03"/>
<g fill="#872d59"><circle cx="917.90" cy="78.41" r="5.15"/><circle cx="926.41" cy="85.51" r="5.15"/><circle cx="934.92" cy="162.09" r="5.15"/><circle cx="943.44" cy="251.51" r="5.15"/><circle cx="951.95" cy="298.45" r="5.15"/><circle cx="960.46" cy="325.48" r="5.15"/><circle cx="968.97" cy="344.28" r="5.15"/><circle cx="977.48" cy="357.36" r="5.15"/><circle cx="986.00" cy="367.94" r="5.15"/><circle cx="994.51" cy="377.53" r="5.15"/><circle cx="1003.02" cy="385.13" r="5.15"/><circle cx="1011.53" cy="392.72" r="5.15"/><circle cx="1020.04" cy="398.45" r="5.15"/><circle cx="1028.56" cy="403.18" r="5.15"/><circle cx="1037.07" cy="406.92" r="5.15"/><circle cx="1045.58" cy="410.78" r="5.15"/><circle cx="1054.09" cy="413.64" r="5.15"/><circle cx="1062.60" cy="416.63" r="5.15"/><circle cx="1071.12" cy="418.75" r="5.15"/><circle cx="1079.63" cy="421.12" r="5.15"/><circle cx="1088.14" cy="422.24" r="5.15"/><circle cx="1096.65" cy="423.48" r="5.15"/><circle cx="1105.16" cy="424.85" r="5.15"/><circle cx="1113.68" cy="426.22" r="5.15"/><circle cx="1122.19" cy="426.10" r="5.15"/><circle cx="1130.70" cy="428.09" r="5.15"/><circle cx="1139.21" cy="428.71" r="5.15"/><circle cx="1147.72" cy="429.58" r="5.15"/><circle cx="1156.24" cy="430.46" r="5.15"/><circle cx="1164.75" cy="430.08" r="5.15"/><circle cx="1173.26" cy="431.70" r="5.15"/><circle cx="1181.77" cy="433.07" r="5.15"/><circle cx="1190.28" cy="432.45" r="5.15"/><circle cx="1198.80" cy="434.69" r="5.15"/><circle cx="1207.31" cy="434.69" r="5.15"/><circle cx="1215.82" cy="433.94" r="5.15"/><circle cx="1224.33" cy="435.56" r="5.15"/><circle cx="1232.84" cy="435.19" r="5.15"/><circle cx="1241.36" cy="436.93" r="5.15"/><circle cx="1249.87" cy="436.31" r="5.15"/><circle cx="1258.38" cy="436.06" r="5.15"/><circle cx="1266.89" cy="436.31" r="5.15"/><circle cx="1275.40" cy="437.93" r="5.15"/><circle cx="1283.92" cy="438.80" r="5.15"/><circle cx="1292.43" cy="438.43" r="5.15"/><circle cx="1300.94" cy="440.17" r="5.15"/><circle cx="1309.45" cy="440.42" r="5.15"/><circle cx="1317.96" cy="439.55" r="5.15"/><circle cx="1326.48" cy="439.05" r="5.15"/><circle cx="1334.99" cy="439.55" r="5.15"/><circle cx="1343.50" cy="441.41" r="5.15"/><circle cx="1352.01" cy="441.41" r="5.15"/><circle cx="1360.52" cy="442.41" r="5.15"/><circle cx="1369.04" cy="442.04" r="5.15"/><circle cx="1377.55" cy="442.41" r="5.15"/><circle cx="1386.06" cy="442.66" r="5.15"/><circle cx="1394.57" cy="442.66" r="5.15"/><circle cx="1403.08" cy="442.41" r="5.15"/><circle cx="1411.60" cy="441.17" r="5.15"/><circle cx="1420.11" cy="444.03" r="5.15"/></g>
<polyline fill="none" stroke="#b8860b" stroke-width="4.35" stroke-linejoin="round" stroke-linecap="round" points="917.90,78.41 926.41,79.66 934.92,88.87 943.44,126.48 951.95,227.60 960.46,301.32 968.97,327.22 977.48,340.30 986.00,351.13 994.51,360.84 1003.02,370.68 1011.53,380.52 1020.04,390.36 1028.56,400.69 1037.07,408.41 1045.58,415.01 1054.09,421.37 1062.60,426.10 1071.12,429.83 1079.63,433.07 1088.14,435.69 1096.65,437.31 1105.16,438.68 1113.68,439.80 1122.19,440.79 1130.70,441.91 1139.21,442.66 1147.72,443.78 1156.24,444.40 1164.75,444.78 1173.26,445.03 1181.77,445.40 1190.28,445.90 1198.80,446.65 1207.31,447.27 1215.82,447.64 1224.33,448.14 1232.84,448.51 1241.36,448.89 1249.87,449.14 1258.38,449.76 1266.89,449.88 1275.40,450.75 1283.92,451.75 1292.43,452.00 1300.94,452.00 1309.45,452.12 1317.96,452.00 1326.48,452.12 1334.99,452.12 1343.50,452.25 1352.01,452.25 1360.52,452.25 1369.04,452.25 1377.55,452.25 1386.06,452.25 1394.57,452.25 1403.08,452.25 1411.60,452.25 1420.11,452.25"/>
<g fill="#b8860b"><circle cx="917.90" cy="78.41" r="5.15"/><circle cx="926.41" cy="79.66" r="5.15"/><circle cx="934.92" cy="88.87" r="5.15"/><circle cx="943.44" cy="126.48" r="5.15"/><circle cx="951.95" cy="227.60" r="5.15"/><circle cx="960.46" cy="301.32" r="5.15"/><circle cx="968.97" cy="327.22" r="5.15"/><circle cx="977.48" cy="340.30" r="5.15"/><circle cx="986.00" cy="351.13" r="5.15"/><circle cx="994.51" cy="360.84" r="5.15"/><circle cx="1003.02" cy="370.68" r="5.15"/><circle cx="1011.53" cy="380.52" r="5.15"/><circle cx="1020.04" cy="390.36" r="5.15"/><circle cx="1028.56" cy="400.69" r="5.15"/><circle cx="1037.07" cy="408.41" r="5.15"/><circle cx="1045.58" cy="415.01" r="5.15"/><circle cx="1054.09" cy="421.37" r="5.15"/><circle cx="1062.60" cy="426.10" r="5.15"/><circle cx="1071.12" cy="429.83" r="5.15"/><circle cx="1079.63" cy="433.07" r="5.15"/><circle cx="1088.14" cy="435.69" r="5.15"/><circle cx="1096.65" cy="437.31" r="5.15"/><circle cx="1105.16" cy="438.68" r="5.15"/><circle cx="1113.68" cy="439.80" r="5.15"/><circle cx="1122.19" cy="440.79" r="5.15"/><circle cx="1130.70" cy="441.91" r="5.15"/><circle cx="1139.21" cy="442.66" r="5.15"/><circle cx="1147.72" cy="443.78" r="5.15"/><circle cx="1156.24" cy="444.40" r="5.15"/><circle cx="1164.75" cy="444.78" r="5.15"/><circle cx="1173.26" cy="445.03" r="5.15"/><circle cx="1181.77" cy="445.40" r="5.15"/><circle cx="1190.28" cy="445.90" r="5.15"/><circle cx="1198.80" cy="446.65" r="5.15"/><circle cx="1207.31" cy="447.27" r="5.15"/><circle cx="1215.82" cy="447.64" r="5.15"/><circle cx="1224.33" cy="448.14" r="5.15"/><circle cx="1232.84" cy="448.51" r="5.15"/><circle cx="1241.36" cy="448.89" r="5.15"/><circle cx="1249.87" cy="449.14" r="5.15"/><circle cx="1258.38" cy="449.76" r="5.15"/><circle cx="1266.89" cy="449.88" r="5.15"/><circle cx="1275.40" cy="450.75" r="5.15"/><circle cx="1283.92" cy="451.75" r="5.15"/><circle cx="1292.43" cy="452.00" r="5.15"/><circle cx="1300.94" cy="452.00" r="5.15"/><circle cx="1309.45" cy="452.12" r="5.15"/><circle cx="1317.96" cy="452.00" r="5.15"/><circle cx="1326.48" cy="452.12" r="5.15"/><circle cx="1334.99" cy="452.12" r="5.15"/><circle cx="1343.50" cy="452.25" r="5.15"/><circle cx="1352.01" cy="452.25" r="5.15"/><circle cx="1360.52" cy="452.25" r="5.15"/><circle cx="1369.04" cy="452.25" r="5.15"/><circle cx="1377.55" cy="452.25" r="5.15"/><circle cx="1386.06" cy="452.25" r="5.15"/><circle cx="1394.57" cy="452.25" r="5.15"/><circle cx="1403.08" cy="452.25" r="5.15"/><circle cx="1411.60" cy="452.25" r="5.15"/><circle cx="1420.11" cy="452.25" r="5.15"/></g>
<rect x="1289.6" y="66.7" width="147.8" height="50.7" rx="3.5" ry="3.5" fill="#fff" fill-opacity="0.8" stroke="#cccccc" stroke-width="1.2"/>
<line x1="1294.2" y1="79.90" x2="1329.6" y2="79.90" stroke="#872d59" stroke-width="4.5"/>
<circle cx="1311.9" cy="79.90" r="5.15" fill="#872d59"/>
<text transform="translate(1340.00 85.40)" font-size="15.30" text-anchor="start" font-family='"DejaVu Sans", "Liberation Sans", sans-serif' fill="#000" stroke="#000" stroke-width="0.25" >Lung Loss</text>
<line x1="1294.2" y1="102.40" x2="1329.6" y2="102.40" stroke="#b8860b" stroke-width="4.5"/>
<circle cx="1311.9" cy="102.40" r="5.15" fill="#b8860b"/>
<text transform="translate(1340.00 107.90)" font-size="15.30" text-anchor="start" font-family='"DejaVu Sans", "Liberation Sans", sans-serif' fill="#000" stroke="#000" stroke-width="0.25" >Kidney Loss</text>
<text transform="translate(1484.30 30.00) scale(1.0500 1)" font-size="34.80" text-anchor="start" font-family='"Liberation Sans", Arial, Helvetica, sans-serif' fill="#000" stroke="#000" stroke-width="0.30" >d)</text>
<g transform="translate(1554.8 68.9) rotate(-0.8)">
<rect x="-0.25" y="-0.25" width="74.30" height="74.50" fill="#dbc5cc"/>
<rect x="-0.25" y="73.75" width="74.30" height="74.50" fill="#d1a6b8"/>
<rect x="73.55" y="73.75" width="74.30" height="74.50" fill="#d9bfc9"/>
<rect x="-0.25" y="147.75" width="74.30" height="74.50" fill="#511538"/>
<rect x="73.55" y="147.75" width="74.30" height="74.50" fill="#58193d"/>
<rect x="147.35" y="147.75" width="74.30" height="74.50" fill="#dcc7ce"/>
<rect x="-0.25" y="221.75" width="74.30" height="74.50" fill="#5b1a3e"/>
<rect x="73.55" y="221.75" width="74.30" height="74.50" fill="#57183c"/>
<rect x="147.35" y="221.75" width="74.30" height="74.50" fill="#89315d"/>
<rect x="221.15" y="221.75" width="74.30" height="74.50" fill="#d4aebd"/>
<rect x="-0.25" y="295.75" width="74.30" height="74.50" fill="#54173a"/>
<rect x="73.55" y="295.75" width="74.30" height="74.50" fill="#521639"/>
<rect x="147.35" y="295.75" width="74.30" height="74.50" fill="#7e2c56"/>
<rect x="221.15" y="295.75" width="74.30" height="74.50" fill="#c785a2"/>
<rect x="294.95" y="295.75" width="74.30" height="74.50" fill="#ce9bb1"/>
<text transform="translate(36.90 41.40)" font-size="15.80" text-anchor="middle" font-family='"DejaVu Sans", "Liberation Sans", sans-serif' fill="#fff" stroke="#fff" stroke-width="0.15" >3718</text>
<text transform="translate(36.90 115.40)" font-size="15.80" text-anchor="middle" font-family='"DejaVu Sans", "Liberation Sans", sans-serif' fill="#fff" stroke="#fff" stroke-width="0.15" >4718</text>
<text transform="translate(110.70 115.40)" font-size="15.80" text-anchor="middle" font-family='"DejaVu Sans", "Liberation Sans", sans-serif' fill="#fff" stroke="#fff" stroke-width="0.15" >3896</text>
<text transform="translate(36.90 189.40)" font-size="15.80" text-anchor="middle" font-family='"DejaVu Sans", "Liberation Sans", sans-serif' fill="#fff" stroke="#fff" stroke-width="0.15" >16100</text>
<text transform="translate(110.70 189.40)" font-size="15.80" text-anchor="middle" font-family='"DejaVu Sans", "Liberation Sans", sans-serif' fill="#fff" stroke="#fff" stroke-width="0.15" >15476</text>
<text transform="translate(184.50 189.40)" font-size="15.80" text-anchor="middle" font-family='"DejaVu Sans", "Liberation Sans", sans-serif' fill="#fff" stroke="#fff" stroke-width="0.15" >3644</text>
<text transform="translate(36.90 263.40)" font-size="15.80" text-anchor="middle" font-family='"DejaVu Sans", "Liberation Sans", sans-serif' fill="#fff" stroke="#fff" stroke-width="0.15" >15274</text>
<text transform="translate(110.70 263.40)" font-size="15.80" text-anchor="middle" font-family='"DejaVu Sans", "Liberation Sans", sans-serif' fill="#fff" stroke="#fff" stroke-width="0.15" >15596</text>
<text transform="translate(184.50 263.40)" font-size="15.80" text-anchor="middle" font-family='"DejaVu Sans", "Liberation Sans", sans-serif' fill="#fff" stroke="#fff" stroke-width="0.15" >11328</text>
<text transform="translate(258.30 263.40)" font-size="15.80" text-anchor="middle" font-family='"DejaVu Sans", "Liberation Sans", sans-serif' fill="#fff" stroke="#fff" stroke-width="0.15" >4446</text>
<text transform="translate(36.90 337.40)" font-size="15.80" text-anchor="middle" font-family='"DejaVu Sans", "Liberation Sans", sans-serif' fill="#fff" stroke="#fff" stroke-width="0.15" >15832</text>
<text transform="translate(110.70 337.40)" font-size="15.80" text-anchor="middle" font-family='"DejaVu Sans", "Liberation Sans", sans-serif' fill="#fff" stroke="#fff" stroke-width="0.15" >15976</text>
<text transform="translate(184.50 337.40)" font-size="15.80" text-anchor="middle" font-family='"DejaVu Sans", "Liberation Sans", sans-serif' fill="#fff" stroke="#fff" stroke-width="0.15" >12242</text>
<text transform="translate(258.30 337.40)" font-size="15.80" text-anchor="middle" font-family='"DejaVu Sans", "Liberation Sans", sans-serif' fill="#fff" stroke="#fff" stroke-width="0.15" >5754</text>
<text transform="translate(332.10 337.40)" font-size="15.80" text-anchor="middle" font-family='"DejaVu Sans", "Liberation Sans", sans-serif' fill="#fff" stroke="#fff" stroke-width="0.15" >5050</text>
<g stroke="#000" stroke-width="1.3">
<line x1="-5.3" y1="37.00" x2="0" y2="37.00"/>
<line x1="36.90" y1="370.00" x2="36.90" y2="375.30"/>
<line x1="-5.3" y1="111.00" x2="0" y2="111.00"/>
<line x1="110.70" y1="370.00" x2="110.70" y2="375.30"/>
<line x1="-5.3" y1="185.00" x2="0" y2="185.00"/>
<line x1="184.50" y1="370.00" x2="184.50" y2="375.30"/>
<line x1="-5.3" y1="259.00" x2="0" y2="259.00"/>
<line x1="258.30" y1="370.00" x2="258.30" y2="375.30"/>
<line x1="-5.3" y1="333.00" x2="0" y2="333.00"/>
<line x1="332.10" y1="370.00" x2="332.10" y2="375.30"/>
</g>
<text transform="translate(-11.80 42.70)" font-size="15.80" text-anchor="end" font-family='"DejaVu Sans", "Liberation Sans", sans-serif' fill="#000" stroke="#000" stroke-width="0.25" >LUAD</text>
<text transform="translate(36.90 393.40)" font-size="15.80" text-anchor="middle" font-family='"DejaVu Sans", "Liberation Sans", sans-serif' fill="#000" stroke="#000" stroke-width="0.25" >LUAD</text>
<text transform="translate(-11.80 116.70)" font-size="15.80" text-anchor="end" font-family='"DejaVu Sans", "Liberation Sans", sans-serif' fill="#000" stroke="#000" stroke-width="0.25" >LUSC</text>
<text transform="translate(110.70 393.40)" font-size="15.80" text-anchor="middle" font-family='"DejaVu Sans", "Liberation Sans", sans-serif' fill="#000" stroke="#000" stroke-width="0.25" >LUSC</text>
<text transform="translate(-11.80 190.70)" font-size="15.80" text-anchor="end" font-family='"DejaVu Sans", "Liberation Sans", sans-serif' fill="#000" stroke="#000" stroke-width="0.25" >KIRC</text>
<text transform="translate(184.50 393.40)" font-size="15.80" text-anchor="middle" font-family='"DejaVu Sans", "Liberation Sans", sans-serif' fill="#000" stroke="#000" stroke-width="0.25" >KIRC</text>
<text transform="translate(-11.80 264.70)" font-size="15.80" text-anchor="end" font-family='"DejaVu Sans", "Liberation Sans", sans-serif' fill="#000" stroke="#000" stroke-width="0.25" >KIRP</text>
<text transform="translate(258.30 393.40)" font-size="15.80" text-anchor="middle" font-family='"DejaVu Sans", "Liberation Sans", sans-serif' fill="#000" stroke="#000" stroke-width="0.25" >KIRP</text>
<text transform="translate(-11.80 338.70)" font-size="15.80" text-anchor="end" font-family='"DejaVu Sans", "Liberation Sans", sans-serif' fill="#000" stroke="#000" stroke-width="0.25" >KICH</text>
<text transform="translate(332.10 393.40)" font-size="15.80" text-anchor="middle" font-family='"DejaVu Sans", "Liberation Sans", sans-serif' fill="#000" stroke="#000" stroke-width="0.25" >KICH</text>
<rect x="0" y="410.5" width="369.5" height="14.9" fill="url(#cb)" stroke="#000" stroke-width="1.3"/>
<g stroke="#000" stroke-width="1.3">
<line x1="10.56" y1="425.4" x2="10.56" y2="430.6"/>
<line x1="69.89" y1="425.4" x2="69.89" y2="430.6"/>
<line x1="129.22" y1="425.4" x2="129.22" y2="430.6"/>
<line x1="188.55" y1="425.4" x2="188.55" y2="430.6"/>
<line x1="247.88" y1="425.4" x2="247.88" y2="430.6"/>
<line x1="307.20" y1="425.4" x2="307.20" y2="430.6"/>
<line x1="366.53" y1="425.4" x2="366.53" y2="430.6"/>
</g>
<text transform="translate(10.56 448.90)" font-size="15.60" text-anchor="middle" font-family='"DejaVu Sans", "Liberation Sans", sans-serif' fill="#000" stroke="#000" stroke-width="0.25" >4000</text>
<text transform="translate(69.89 448.90)" font-size="15.60" text-anchor="middle" font-family='"DejaVu Sans", "Liberation Sans", sans-serif' fill="#000" stroke="#000" stroke-width="0.25" >6000</text>
<text transform="translate(129.22 448.90)" font-size="15.60" text-anchor="middle" font-family='"DejaVu Sans", "Liberation Sans", sans-serif' fill="#000" stroke="#000" stroke-width="0.25" >8000</text>
<text transform="translate(188.55 448.90)" font-size="15.60" text-anchor="middle" font-family='"DejaVu Sans", "Liberation Sans", sans-serif' fill="#000" stroke="#000" stroke-width="0.25" >10000</text>
<text transform="translate(247.88 448.90)" font-size="15.60" text-anchor="middle" font-family='"DejaVu Sans", "Liberation Sans", sans-serif' fill="#000" stroke="#000" stroke-width="0.25" >12000</text>
<text transform="translate(307.20 448.90)" font-size="15.60" text-anchor="middle" font-family='"DejaVu Sans", "Liberation Sans", sans-serif' fill="#000" stroke="#000" stroke-width="0.25" >14000</text>
<text transform="translate(366.53 448.90)" font-size="15.60" text-anchor="middle" font-family='"DejaVu Sans", "Liberation Sans", sans-serif' fill="#000" stroke="#000" stroke-width="0.25" >16000</text>
<text transform="translate(184.60 470.80)" font-size="15.60" text-anchor="middle" font-family='"DejaVu Sans", "Liberation Sans", sans-serif' fill="#000" stroke="#000" stroke-width="0.25" >Difference</text>
</g>
</svg>
</body></html>
